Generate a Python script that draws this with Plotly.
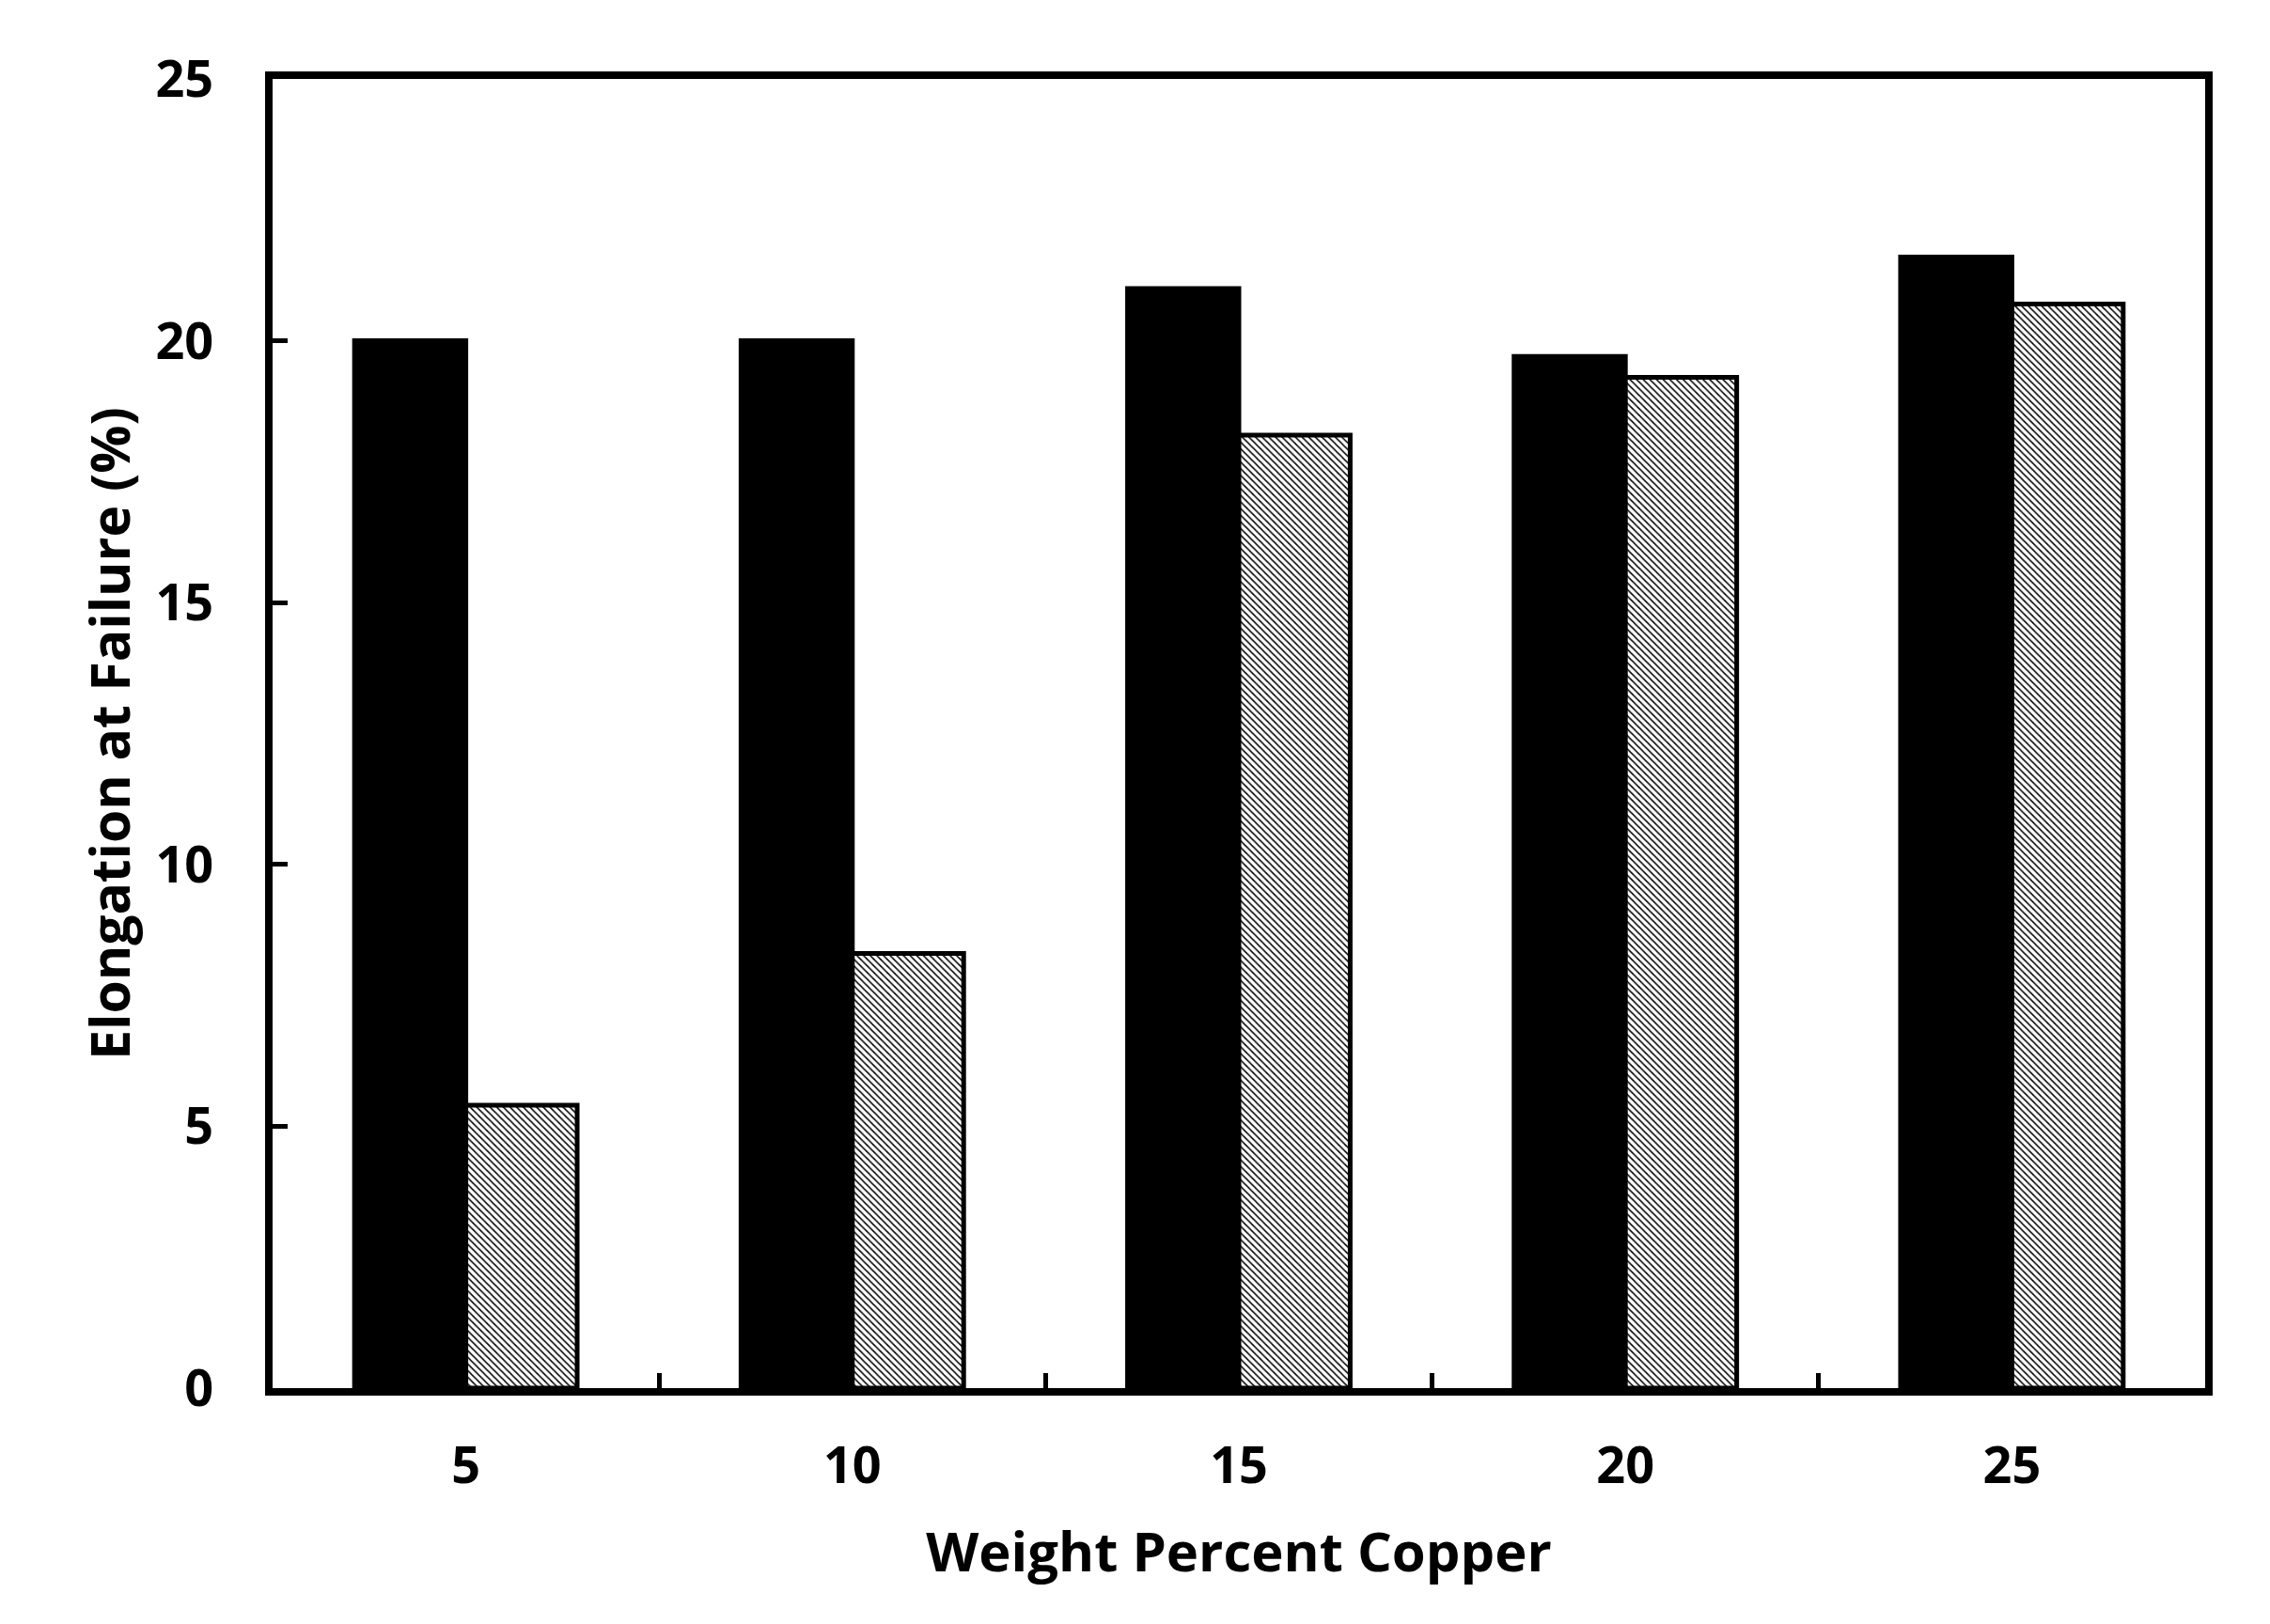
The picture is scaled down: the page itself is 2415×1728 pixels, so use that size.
import plotly.graph_objects as go

categories = ["5", "10", "15", "20", "25"]
series_black = [20.0, 20.0, 21.0, 19.7, 21.6]
series_hatched = [5.4, 8.3, 18.2, 19.3, 20.7]
y_ticks = [0, 5, 10, 15, 20, 25]

FONT = "Open Sans"

fig = go.Figure()
fig.add_trace(go.Bar(
    x=categories, y=series_black, name="Series 1",
    marker=dict(color="black", line=dict(color="black", width=5)),
))
fig.add_trace(go.Bar(
    x=categories, y=series_hatched, name="Series 2",
    marker=dict(color="white", line=dict(color="black", width=5),
                pattern=dict(shape="\\", size=5, solidity=0.3,
                             fgcolor="black", bgcolor="white", fillmode="replace")),
))

fig.update_layout(
    width=2407, height=1720,
    paper_bgcolor="white", plot_bgcolor="white",
    barmode="group", bargap=0.424, bargroupgap=0,
    showlegend=False,
    margin=dict(l=282, r=69, t=76, b=251),
    font=dict(family=FONT, color="black"),
)
fig.update_xaxes(
    type="category",
    showline=True, linewidth=8, linecolor="black", mirror=True,
    ticks="inside", tickson="boundaries", ticklen=16, tickwidth=5, tickcolor="black",
    tickfont=dict(family=FONT, size=54, color="black", weight="bold"),
    ticklabelstandoff=28,
    showgrid=False, zeroline=False,
    title=dict(text="<b>Weight Percent Copper</b>", font=dict(family=FONT, size=58, color="black"), standoff=42),
    automargin=False,
)
fig.update_yaxes(
    range=[0, 25], tickvals=y_ticks,
    showline=True, linewidth=8, linecolor="black", mirror=True,
    ticks="inside", ticklen=16, tickwidth=5, tickcolor="black",
    tickfont=dict(family=FONT, size=54, color="black", weight="bold"),
    ticklabelstandoff=44,
    showgrid=False, zeroline=False,
    title=dict(text="<b>Elongation at Failure (%)</b>", font=dict(family=FONT, size=57, color="black"), standoff=11),
    automargin=False,
)

fig.write_html("out.html")
